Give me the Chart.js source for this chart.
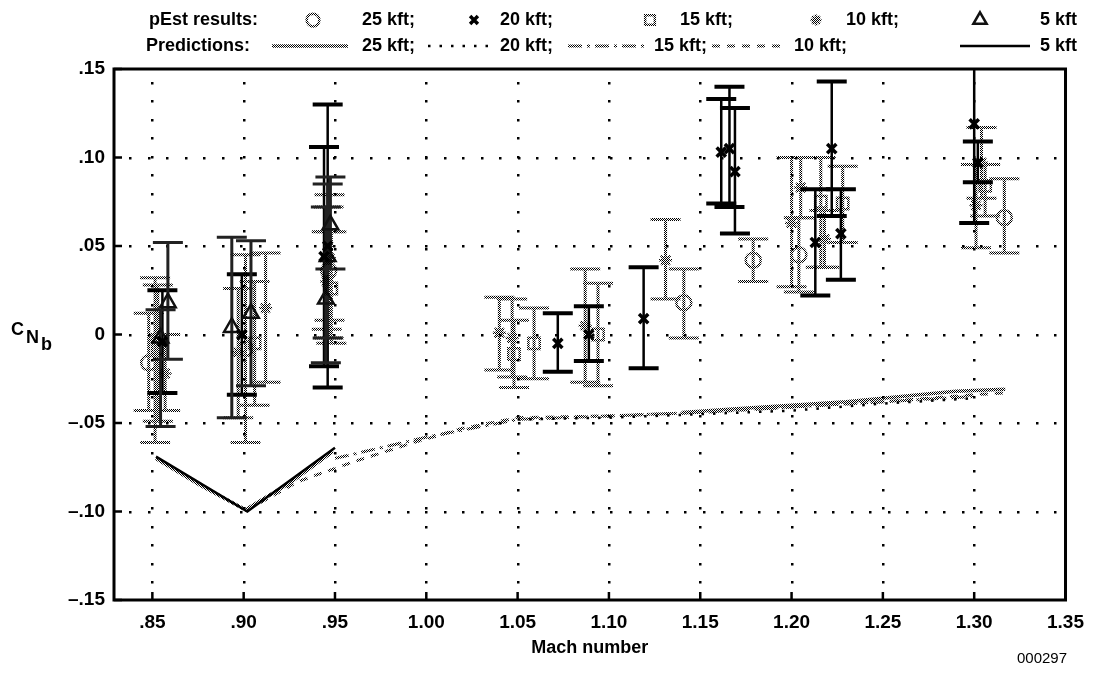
<!DOCTYPE html>
<html><head><meta charset="utf-8">
<script src="https://cdn.jsdelivr.net/npm/chart.js@4.4.1/dist/chart.umd.min.js"></script>
<style>html,body{margin:0;padding:0;background:#fff;}#wrap{width:1095px;height:676px;position:relative;}</style>
</head><body><div id="wrap"><canvas id="c" width="1095" height="676"></canvas></div>
<script>
// ---------- data ----------
const xTickVals = [0.85,0.90,0.95,1.00,1.05,1.10,1.15,1.20,1.25,1.30,1.35];
const yTickVals = [-0.15,-0.10,-0.05,0,0.05,0.10,0.15];

// pEst results (Mach, CNb, lower, upper)
const mach25 = [0.848, 0.901, 0.9465, 1.141, 1.179, 1.204, 1.3165];
const cn25   = [-0.016, -0.008, 0.036, 0.018, 0.042, 0.045, 0.066];
const lo25   = [-0.043, -0.061, -0.002, -0.002, 0.030, 0.024, 0.046];
const hi25   = [0.012, 0.045, 0.072, 0.037, 0.054, 0.066, 0.088];

const mach20 = [0.8555, 0.899, 0.946, 0.944, 1.072, 1.089, 1.119, 1.1615, 1.166, 1.169, 1.213, 1.222, 1.227, 1.300, 1.302];
const cn20   = [-0.004, 0.000, 0.050, 0.044, -0.005, 0.000, 0.009, 0.103, 0.105, 0.092, 0.052, 0.105, 0.057, 0.119, 0.097];
const lo20   = [-0.033, -0.034, -0.030, -0.018, -0.021, -0.015, -0.019, 0.074, 0.072, 0.057, 0.022, 0.067, 0.031, 0.063, 0.086];
const hi20   = [0.025, 0.034, 0.130, 0.106, 0.012, 0.016, 0.038, 0.133, 0.140, 0.128, 0.082, 0.143, 0.082, 0.176, 0.109];

const mach15 = [0.853, 0.906, 0.948, 1.048, 1.059, 1.094, 1.216, 1.228, 1.306];
const cn15   = [-0.008, -0.005, 0.026, -0.011, -0.005, 0.000, 0.075, 0.074, 0.084];
const lo15   = [-0.049, -0.040, -0.005, -0.030, -0.025, -0.029, 0.038, 0.052, 0.067];
const hi15   = [0.028, 0.030, 0.058, 0.008, 0.015, 0.029, 0.100, 0.095, 0.096];

const mach10 = [0.8515, 0.857, 0.897, 0.912, 0.947, 0.9455, 1.040, 1.047, 1.087, 1.131, 1.200, 1.205, 1.218, 1.304, 1.301];
const cn10   = [-0.003, -0.022, -0.010, 0.015, 0.043, 0.030, 0.001, -0.002, 0.005, 0.042, 0.063, 0.083, 0.054, 0.097, 0.073];
const lo10   = [-0.061, -0.043, -0.047, -0.027, 0.008, 0.003, -0.020, -0.024, -0.027, 0.020, 0.027, 0.066, 0.038, 0.077, 0.049];
const hi10   = [0.032, 0.000, 0.026, 0.046, 0.079, 0.058, 0.021, 0.020, 0.037, 0.065, 0.100, 0.100, 0.070, 0.117, 0.096];

const mach5 = [0.8585, 0.8545, 0.8935, 0.904, 0.9475, 0.946, 0.945];
const cn5   = [0.018, -0.002, 0.004, 0.012, 0.062, 0.044, 0.020];
const lo5   = [-0.014, -0.052, -0.047, -0.029, 0.037, -0.002, -0.016];
const hi5   = [0.052, 0.014, 0.055, 0.053, 0.089, 0.085, 0.072];

// Predictions
const predMach25a = [0.852, 0.876, 0.901, 0.925, 0.949];
const predCn25a   = [-0.070, -0.085, -0.099, -0.084, -0.066];
const predMach25b = [1.14, 1.17, 1.20, 1.23, 1.26, 1.29, 1.317];
const predCn25b   = [-0.044, -0.042, -0.040, -0.038, -0.035, -0.032, -0.031];
const predMach20 = [1.05, 1.10, 1.15, 1.20, 1.25, 1.30];
const predCn20   = [-0.048, -0.047, -0.045, -0.043, -0.039, -0.036];
const predMach15 = [0.95, 1.00, 1.05, 1.10, 1.15, 1.20, 1.25, 1.30];
const predCn15   = [-0.070, -0.058, -0.048, -0.046, -0.044, -0.041, -0.038, -0.035];
const predMach10 = [0.902, 0.93, 0.96, 0.99, 1.02, 1.05, 1.10, 1.15, 1.20, 1.25, 1.30, 1.317];
const predCn10   = [-0.099, -0.083, -0.072, -0.062, -0.053, -0.047, -0.046, -0.044, -0.041, -0.038, -0.034, -0.033];
const predMach5 = [0.852, 0.902, 0.950];
const predCn5   = [-0.069, -0.100, -0.064];

// ---------- helpers ----------
const canvas = document.getElementById('c');
const ctx0 = canvas.getContext('2d');
function makePattern(){
  const c = document.createElement('canvas'); c.width = 2; c.height = 2;
  const g = c.getContext('2d');
  g.fillStyle = '#000'; g.fillRect(0,0,1,1); g.fillRect(1,1,1,1);
  return ctx0.createPattern(c, 'repeat');
}
const HATCH = makePattern();
const pts = (xs, ys) => xs.map((v,i)=>({x:v, y:ys[i]}));
const FONT = '"Liberation Sans", Arial, Helvetica, sans-serif';
function fmt(v){
  if (Math.abs(v) < 1e-9) return '0';
  let s = Math.abs(v).toFixed(2);
  if (s[0] === '0') s = s.slice(1);
  return (v < 0 ? '\u2013' : '') + s;
}

const series = [
  {name:'25 kft', xs:mach25, ys:cn25, lo:lo25, hi:hi25, style:'circle', radius:7.5, color:HATCH, bw:2.5, bar:HATCH, barW:3, capW:3},
  {name:'20 kft', xs:mach20, ys:cn20, lo:lo20, hi:hi20, style:'crossRot', radius:6.5, color:'#000', bw:3.5, bar:'#000', barW:2.5, capW:4},
  {name:'15 kft', xs:mach15, ys:cn15, lo:lo15, hi:hi15, style:'rect', radius:8, color:HATCH, bw:2.5, bar:HATCH, barW:3, capW:3},
  {name:'10 kft', xs:mach10, ys:cn10, lo:lo10, hi:hi10, style:'star', radius:6.5, color:HATCH, bw:2.5, bar:HATCH, barW:3, capW:3},
  {name:'5 kft',  xs:mach5,  ys:cn5,  lo:lo5,  hi:hi5,  style:'triangle', radius:9, color:'#111', bw:2.5, bar:'#222', barW:3, capW:3}
];

const datasets = [];
// prediction lines
const lineDefs = [
  {xs:predMach25a, ys:predCn25a, color:HATCH, w:3.5, dash:[]},
  {xs:predMach25b, ys:predCn25b, color:HATCH, w:3.5, dash:[]},
  {xs:predMach20, ys:predCn20, color:'#000', w:2.5, dash:[2.5,9]},
  {xs:predMach15, ys:predCn15, color:HATCH, w:3, dash:[14,5,3,5]},
  {xs:predMach10, ys:predCn10, color:HATCH, w:3, dash:[8,7]},
  {xs:predMach5, ys:predCn5, color:'#000', w:2.5, dash:[]}
];
lineDefs.forEach(d => datasets.push({
  data: pts(d.xs, d.ys), showLine:true, pointRadius:0, borderColor:d.color,
  borderWidth:d.w, borderDash:d.dash, fill:false, tension:0
}));
series.forEach(s => datasets.push({
  data: pts(s.xs, s.ys), showLine:false, pointStyle:s.style, pointRadius:s.radius,
  pointBorderColor:s.color, pointBackgroundColor:'rgba(0,0,0,0)', pointBorderWidth:s.bw,
  pointHoverRadius:s.radius
}));

// ---------- plugin ----------
const deco = {
  id:'deco',
  beforeDatasetsDraw(chart){
    const {ctx, chartArea:a, scales:{x, y}} = chart;
    ctx.save();
    ctx.fillStyle = '#000';
    // dotted grid
    xTickVals.forEach(v => {
      const px = Math.round(x.getPixelForValue(v));
      if (px <= a.left + 2 || px >= a.right - 2) return;
      for (let py = a.bottom - 18; py > a.top + 4; py -= 18.5) ctx.fillRect(px - 1, Math.round(py) - 1, 2.5, 2.5);
    });
    yTickVals.forEach(v => {
      const py = Math.round(y.getPixelForValue(v));
      if (py <= a.top + 2 || py >= a.bottom - 2) return;
      for (let px = a.left + 16; px < a.right - 4; px += 18.5) ctx.fillRect(Math.round(px) - 1, py - 1, 2.5, 2.5);
    });
    // inner ticks
    ctx.strokeStyle = '#000'; ctx.lineWidth = 2.5;
    ctx.beginPath();
    xTickVals.forEach(v => { const px = x.getPixelForValue(v); ctx.moveTo(px, a.bottom); ctx.lineTo(px, a.bottom - 8); });
    yTickVals.forEach(v => { const py = y.getPixelForValue(v); ctx.moveTo(a.left, py); ctx.lineTo(a.left + 8, py); });
    ctx.stroke();
    // error bars
    ctx.beginPath(); ctx.rect(a.left, a.top, a.right - a.left, a.bottom - a.top); ctx.clip();
    series.forEach(s => {
      s.xs.forEach((m, i) => {
        const px = x.getPixelForValue(m);
        const p1 = y.getPixelForValue(s.lo[i]), p2 = y.getPixelForValue(s.hi[i]);
        ctx.strokeStyle = s.bar;
        ctx.lineWidth = s.barW;
        ctx.beginPath(); ctx.moveTo(px, p1); ctx.lineTo(px, p2); ctx.stroke();
        ctx.lineWidth = s.capW;
        ctx.beginPath();
        ctx.moveTo(px - 15, p1); ctx.lineTo(px + 15, p1);
        ctx.moveTo(px - 15, p2); ctx.lineTo(px + 15, p2);
        ctx.stroke();
      });
    });
    ctx.restore();
  },
  afterDatasetsDraw(chart){
    const {ctx, chartArea:a} = chart;
    ctx.save();
    ctx.strokeStyle = '#000'; ctx.lineWidth = 3;
    ctx.strokeRect(a.left, a.top, a.right - a.left, a.bottom - a.top);
    ctx.restore();
  },
  afterDraw(chart){
    const {ctx, chartArea:a} = chart;
    ctx.save();
    ctx.fillStyle = '#000';
    // x title
    ctx.font = 'bold 18px ' + FONT;
    ctx.textAlign = 'center'; ctx.textBaseline = 'middle';
    ctx.fillText('Mach number', (a.left + a.right) / 2, 648);
    // y title
    ctx.textAlign = 'left'; ctx.textBaseline = 'alphabetic';
    ctx.font = 'bold 18px ' + FONT;
    ctx.fillText('C', 11, 335);
    ctx.fillText('N', 26, 343);
    ctx.fillText('b', 41, 350);
    // id
    ctx.font = '15px ' + FONT; ctx.textAlign = 'center'; ctx.textBaseline = 'middle';
    ctx.fillText('000297', 1042, 659);
    // legend
    ctx.font = 'bold 18px ' + FONT; ctx.textBaseline = 'middle';
    const r1 = 20, r2 = 46;
    ctx.textAlign = 'right';
    ctx.fillText('pEst results:', 258, r1);
    ctx.fillText('Predictions:', 250, r2);
    ctx.textAlign = 'left';
    const row1 = [[313, 362], [474, 500], [650, 680], [816, 846], [980, 1040]];
    series.forEach((s, i) => {
      ctx.save();
      ctx.fillStyle = 'rgba(0,0,0,0)';
      ctx.strokeStyle = s.color; ctx.lineWidth = s.bw;
      Chart.helpers.drawPoint(ctx, {pointStyle:s.style, radius:s.radius * 0.85, borderWidth:s.bw, rotation:0}, row1[i][0], r1);
      ctx.restore();
      ctx.fillStyle = '#000';
      ctx.fillText(s.name + (i < 4 ? ';' : ''), row1[i][1], r1);
    });
    const row2 = [[0, 272, 348, 362], [2, 428, 490, 500], [3, 568, 644, 654], [4, 712, 784, 794], [5, 960, 1030, 1040]];
    row2.forEach((r, i) => {
      const d = lineDefs[r[0]];
      ctx.save();
      ctx.strokeStyle = d.color; ctx.lineWidth = d.w; ctx.setLineDash(d.dash);
      ctx.beginPath(); ctx.moveTo(r[1], r2); ctx.lineTo(r[2], r2); ctx.stroke();
      ctx.restore();
      ctx.fillStyle = '#000';
      ctx.fillText(series[i].name + (i < 4 ? ';' : ''), r[3], r2);
    });
    ctx.restore();
  }
};

new Chart(canvas, {
  type:'scatter',
  data:{datasets},
  plugins:[deco],
  options:{
    responsive:false, animation:false, devicePixelRatio:1,
    layout:{padding:{left:0, right:27, top:69, bottom:0}},
    plugins:{legend:{display:false}, tooltip:{enabled:false}},
    events:[],
    scales:{
      x:{type:'linear', min:0.829, max:1.35,
        afterBuildTicks: s => { s.ticks = xTickVals.map(v => ({value:v})); },
        afterFit: s => { s.height = 76; },
        grid:{display:false, drawTicks:false}, border:{display:false},
        ticks:{callback: v => fmt(v), color:'#000', padding:11, maxRotation:0, autoSkip:false,
          font:{family:FONT, weight:'bold', size:19}}},
      y:{type:'linear', min:-0.15, max:0.15,
        afterBuildTicks: s => { s.ticks = yTickVals.map(v => ({value:v})); },
        afterFit: s => { s.width = 114; },
        grid:{display:false, drawTicks:false}, border:{display:false},
        ticks:{callback: v => fmt(v), color:'#000', padding:9, autoSkip:false,
          font:{family:FONT, weight:'bold', size:19}}}
    }
  }
});
</script></body></html>
